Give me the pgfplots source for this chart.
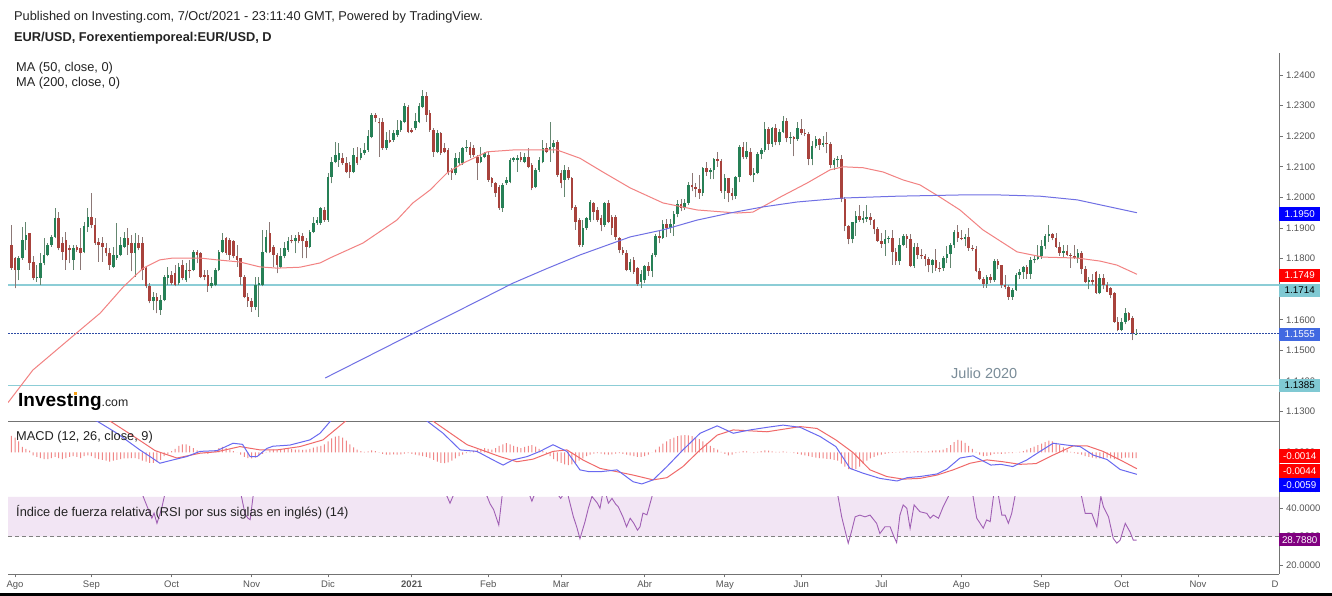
\documentclass[border=0pt]{standalone}
\usepackage{pgfplots}
\pgfplotsset{compat=1.18}
\usepackage{pgfplotstable}
\usepackage{fontspec}
\setmainfont{Liberation Sans}

\definecolor{upbody}{RGB}{38,128,86}
\definecolor{dnbody}{RGB}{168,66,60}
\definecolor{upwick}{RGB}{100,135,112}
\definecolor{dnwick}{RGB}{140,120,118}
\definecolor{maA}{RGB}{242,130,130}
\definecolor{maB}{RGB}{112,112,228}
\definecolor{macdB}{RGB}{105,105,240}
\definecolor{macdR}{RGB}{240,105,105}
\definecolor{histR}{RGB}{240,135,135}
\definecolor{rsiP}{RGB}{160,95,180}
\definecolor{rsiBand}{RGB}{242,229,244}
\definecolor{cyanL}{RGB}{140,205,214}
\definecolor{cyanBox}{RGB}{128,201,211}
\definecolor{dotB}{RGB}{45,75,165}
\definecolor{royal}{RGB}{65,105,225}
\definecolor{axisgray}{RGB}{115,115,115}
\definecolor{labelgray}{RGB}{85,85,85}
\definecolor{headgray}{RGB}{35,35,35}
\definecolor{julio}{RGB}{122,140,152}
\definecolor{purpleBox}{RGB}{128,0,128}
\definecolor{logoOrange}{RGB}{247,162,27}

\newcommand{\tickfont}{\fontsize{9.5bp}{11bp}\selectfont}
\newcommand{\boxfont}{\fontsize{9.8bp}{11bp}\selectfont}
\newcommand{\headfont}{\fontsize{12.8bp}{14bp}\selectfont}

\pgfplotstableread{
x o h l c
-1 1.1845 1.1910 1.1763 1.1769
0 1.1801 1.1805 1.1703 1.1763
1 1.1763 1.1807 1.1730 1.1801
2 1.1801 1.1905 1.1796 1.1861
3 1.1861 1.1921 1.1828 1.1877
4 1.1883 1.1885 1.1763 1.1785
5 1.1790 1.1807 1.1730 1.1736
6 1.1736 1.1779 1.1725 1.1741
7 1.1736 1.1818 1.1714 1.1785
8 1.1785 1.1867 1.1779 1.1812
9 1.1812 1.1850 1.1807 1.1845
10 1.1845 1.1877 1.1839 1.1872
11 1.1872 1.1965 1.1867 1.1932
12 1.1932 1.1954 1.1828 1.1834
13 1.1850 1.1872 1.1796 1.1823
14 1.1861 1.1888 1.1763 1.1796
15 1.1834 1.1845 1.1785 1.1828
16 1.1796 1.1845 1.1763 1.1834
17 1.1837 1.1845 1.1823 1.1828
18 1.1834 1.1899 1.1763 1.1818
19 1.1823 1.1921 1.1818 1.1905
20 1.1905 1.1965 1.1888 1.1937
21 1.1937 1.2014 1.1899 1.1910
22 1.1910 1.1932 1.1845 1.1850
23 1.1856 1.1867 1.1790 1.1845
24 1.1852 1.1872 1.1790 1.1839
25 1.1834 1.1850 1.1807 1.1818
26 1.1818 1.1834 1.1763 1.1779
27 1.1774 1.1839 1.1769 1.1812
28 1.1801 1.1916 1.1796 1.1812
29 1.1812 1.1872 1.1807 1.1845
30 1.1839 1.1888 1.1834 1.1867
31 1.1867 1.1899 1.1812 1.1845
32 1.1850 1.1877 1.1758 1.1818
33 1.1818 1.1883 1.1741 1.1850
34 1.1850 1.1877 1.1828 1.1834
35 1.1850 1.1872 1.1730 1.1763
36 1.1769 1.1774 1.1703 1.1709
37 1.1709 1.1719 1.1654 1.1660
38 1.1660 1.1692 1.1632 1.1676
39 1.1676 1.1687 1.1621 1.1660
40 1.1632 1.1681 1.1616 1.1665
41 1.1665 1.1747 1.1660 1.1741
42 1.1736 1.1774 1.1714 1.1747
43 1.1747 1.1758 1.1714 1.1719
44 1.1752 1.1779 1.1709 1.1714
45 1.1719 1.1785 1.1714 1.1774
46 1.1779 1.1796 1.1730 1.1736
47 1.1730 1.1785 1.1725 1.1763
48 1.1763 1.1796 1.1736 1.1758
49 1.1763 1.1828 1.1758 1.1823
50 1.1823 1.1828 1.1785 1.1812
51 1.1818 1.1823 1.1736 1.1741
52 1.1747 1.1763 1.1730 1.1741
53 1.1747 1.1763 1.1692 1.1709
54 1.1709 1.1741 1.1703 1.1719
55 1.1714 1.1769 1.1709 1.1763
56 1.1763 1.1828 1.1758 1.1823
57 1.1823 1.1883 1.1818 1.1861
58 1.1867 1.1872 1.1812 1.1818
59 1.1861 1.1867 1.1796 1.1812
60 1.1859 1.1861 1.1801 1.1807
61 1.1809 1.1845 1.1774 1.1796
62 1.1801 1.1801 1.1714 1.1741
63 1.1741 1.1747 1.1670 1.1676
64 1.1676 1.1687 1.1643 1.1660
65 1.1660 1.1670 1.1627 1.1643
66 1.1643 1.1741 1.1632 1.1714
67 1.1714 1.1741 1.1610 1.1719
68 1.1714 1.1894 1.1709 1.1823
69 1.1823 1.1894 1.1818 1.1872
70 1.1883 1.1921 1.1818 1.1823
71 1.1839 1.1845 1.1774 1.1812
72 1.1812 1.1818 1.1752 1.1779
73 1.1774 1.1834 1.1769 1.1807
74 1.1807 1.1856 1.1801 1.1834
75 1.1828 1.1872 1.1823 1.1856
76 1.1861 1.1877 1.1850 1.1856
77 1.1856 1.1877 1.1818 1.1867
78 1.1877 1.1888 1.1850 1.1856
79 1.1874 1.1883 1.1801 1.1856
80 1.1856 1.1867 1.1801 1.1839
81 1.1839 1.1894 1.1834 1.1888
82 1.1888 1.1937 1.1883 1.1916
83 1.1916 1.1937 1.1910 1.1927
84 1.1916 1.1970 1.1910 1.1965
85 1.1959 1.1970 1.1921 1.1927
86 1.1927 1.2079 1.1921 1.2068
87 1.2068 1.2133 1.2046 1.2117
88 1.2117 1.2182 1.2111 1.2139
89 1.2122 1.2177 1.2101 1.2144
90 1.2128 1.2144 1.2106 1.2111
91 1.2111 1.2133 1.2079 1.2084
92 1.2106 1.2117 1.2063 1.2084
93 1.2084 1.2160 1.2079 1.2139
94 1.2133 1.2166 1.2106 1.2111
95 1.2128 1.2160 1.2122 1.2144
96 1.2144 1.2177 1.2139 1.2155
97 1.2155 1.2220 1.2150 1.2199
98 1.2199 1.2275 1.2193 1.2270
99 1.2270 1.2275 1.2248 1.2259
100 1.2248 1.2259 1.2133 1.2242
101 1.2248 1.2259 1.2155 1.2160
102 1.2160 1.2215 1.2155 1.2188
103 1.2188 1.2220 1.2177 1.2182
104 1.2188 1.2220 1.2182 1.2210
105 1.2204 1.2253 1.2199 1.2220
106 1.2220 1.2253 1.2215 1.2248
107 1.2248 1.2308 1.2242 1.2297
108 1.2297 1.2302 1.2210 1.2215
109 1.2220 1.2226 1.2210 1.2215
110 1.2226 1.2275 1.2220 1.2248
111 1.2248 1.2308 1.2242 1.2297
112 1.2297 1.2351 1.2291 1.2330
113 1.2330 1.2346 1.2248 1.2270
114 1.2275 1.2286 1.2215 1.2220
115 1.2220 1.2226 1.2133 1.2150
116 1.2150 1.2220 1.2144 1.2210
117 1.2210 1.2215 1.2139 1.2144
118 1.2160 1.2177 1.2144 1.2150
119 1.2155 1.2160 1.2073 1.2079
120 1.2090 1.2095 1.2057 1.2079
121 1.2079 1.2144 1.2073 1.2128
122 1.2111 1.2150 1.2106 1.2128
123 1.2111 1.2166 1.2106 1.2160
124 1.2160 1.2188 1.2150 1.2166
125 1.2166 1.2182 1.2128 1.2139
126 1.2160 1.2171 1.2133 1.2139
127 1.2133 1.2139 1.2057 1.2111
128 1.2117 1.2166 1.2111 1.2133
129 1.2133 1.2150 1.2128 1.2144
130 1.2139 1.2150 1.2052 1.2057
131 1.2063 1.2068 1.2035 1.2046
132 1.2046 1.2052 1.2002 1.2013
133 1.2035 1.2041 1.1959 1.1964
134 1.1964 1.2046 1.1953 1.2041
135 1.2046 1.2068 1.2041 1.2057
136 1.2052 1.2128 1.2046 1.2122
137 1.2122 1.2133 1.2117 1.2128
138 1.2122 1.2139 1.2084 1.2128
139 1.2133 1.2150 1.2117 1.2122
140 1.2117 1.2144 1.2111 1.2133
141 1.2133 1.2160 1.2095 1.2101
142 1.2106 1.2111 1.2024 1.2030
143 1.2035 1.2095 1.2030 1.2090
144 1.2090 1.2133 1.2084 1.2122
145 1.2117 1.2188 1.2111 1.2160
146 1.2160 1.2177 1.2144 1.2150
147 1.2155 1.2248 1.2117 1.2166
148 1.2166 1.2188 1.2144 1.2177
149 1.2182 1.2188 1.2068 1.2073
150 1.2079 1.2090 1.2030 1.2046
151 1.2057 1.2106 1.2002 1.2090
152 1.2090 1.2101 1.2057 1.2063
153 1.2063 1.2068 1.1959 1.1964
154 1.1970 1.1975 1.1894 1.1921
155 1.1926 1.1932 1.1839 1.1845
156 1.1845 1.1926 1.1839 1.1899
157 1.1899 1.1937 1.1894 1.1932
158 1.1926 1.1992 1.1921 1.1986
159 1.1981 1.1986 1.1926 1.1953
160 1.1959 1.1970 1.1921 1.1926
161 1.1932 1.1943 1.1889 1.1910
162 1.1910 1.1986 1.1905 1.1981
163 1.1981 1.1992 1.1916 1.1921
164 1.1937 1.1943 1.1878 1.1899
165 1.1937 1.1943 1.1861 1.1872
166 1.1867 1.1872 1.1818 1.1828
167 1.1828 1.1839 1.1812 1.1818
168 1.1818 1.1828 1.1758 1.1763
169 1.1763 1.1800 1.1757 1.1790
170 1.1795 1.1806 1.1750 1.1757
171 1.1768 1.1773 1.1712 1.1718
172 1.1724 1.1762 1.1704 1.1751
173 1.1730 1.1780 1.1720 1.1776
174 1.1776 1.1790 1.1744 1.1761
175 1.1761 1.1820 1.1740 1.1813
176 1.1813 1.1880 1.1805 1.1874
177 1.1874 1.1890 1.1850 1.1868
178 1.1868 1.1927 1.1865 1.1914
179 1.1914 1.1930 1.1870 1.1900
180 1.1900 1.1928 1.1885 1.1912
181 1.1912 1.1955 1.1875 1.1947
182 1.1947 1.1990 1.1935 1.1979
183 1.1979 1.1995 1.1955 1.1965
184 1.1965 1.1995 1.1960 1.1983
185 1.1983 1.2050 1.1975 1.2039
186 1.2039 1.2080 1.2020 1.2033
187 1.2033 1.2048 1.2000 1.2028
188 1.2028 1.2072 1.1995 1.2015
189 1.2015 1.2100 1.2005 1.2096
190 1.2096 1.2115 1.2070 1.2083
191 1.2083 1.2095 1.2060 1.2089
192 1.2089 1.2130 1.2060 1.2126
193 1.2126 1.2150 1.2100 1.2120
194 1.2120 1.2125 1.2015 1.2021
195 1.2021 1.2075 1.1995 1.2062
196 1.2062 1.2065 1.1985 1.2014
197 1.2014 1.2030 1.1990 1.2005
198 1.2005 1.2070 1.1995 1.2066
199 1.2066 1.2170 1.2050 1.2165
200 1.2165 1.2180 1.2125 1.2131
201 1.2131 1.2180 1.2125 1.2150
202 1.2150 1.2160 1.2070 1.2074
203 1.2074 1.2095 1.2050 1.2080
204 1.2080 1.2150 1.2075 1.2141
205 1.2141 1.2160 1.2125 1.2154
206 1.2154 1.2245 1.2150 1.2224
207 1.2224 1.2230 1.2155 1.2175
208 1.2175 1.2230 1.2165 1.2226
209 1.2226 1.2240 1.2170 1.2180
210 1.2180 1.2225 1.2170 1.2214
211 1.2214 1.2266 1.2210 1.2250
212 1.2250 1.2260 1.2180 1.2193
213 1.2193 1.2215 1.2175 1.2197
214 1.2197 1.2200 1.2135 1.2190
215 1.2190 1.2245 1.2185 1.2225
216 1.2225 1.2255 1.2205 1.2212
217 1.2212 1.2225 1.2200 1.2208
218 1.2208 1.2215 1.2105 1.2126
219 1.2126 1.2185 1.2105 1.2167
220 1.2167 1.2200 1.2160 1.2190
221 1.2190 1.2195 1.2155 1.2172
222 1.2172 1.2200 1.2165 1.2179
223 1.2179 1.2215 1.2145 1.2173
224 1.2173 1.2180 1.2095 1.2107
225 1.2107 1.2130 1.2090 1.2121
226 1.2121 1.2135 1.2100 1.2125
227 1.2125 1.2140 1.1985 1.1995
228 1.1995 1.2000 1.1890 1.1907
229 1.1907 1.1910 1.1847 1.1864
230 1.1864 1.1920 1.1850 1.1918
231 1.1918 1.1955 1.1875 1.1940
232 1.1940 1.1975 1.1920 1.1926
233 1.1926 1.1955 1.1915 1.1931
234 1.1931 1.1975 1.1920 1.1937
235 1.1937 1.1950 1.1910 1.1925
236 1.1925 1.1930 1.1880 1.1896
237 1.1896 1.1905 1.1855 1.1858
238 1.1858 1.1885 1.1835 1.1848
239 1.1848 1.1895 1.1810 1.1864
240 1.1864 1.1875 1.1850 1.1868
241 1.1868 1.1895 1.1780 1.1822
242 1.1822 1.1835 1.1780 1.1791
243 1.1791 1.1868 1.1780 1.1845
244 1.1845 1.1880 1.1840 1.1875
245 1.1875 1.1880 1.1835 1.1863
246 1.1863 1.1880 1.1772 1.1776
247 1.1776 1.1850 1.1770 1.1837
248 1.1837 1.1850 1.1800 1.1812
249 1.1812 1.1830 1.1800 1.1807
250 1.1807 1.1815 1.1775 1.1800
251 1.1800 1.1805 1.1755 1.1780
252 1.1780 1.1800 1.1752 1.1794
253 1.1794 1.1830 1.1760 1.1771
254 1.1771 1.1790 1.1755 1.1768
255 1.1768 1.1810 1.1760 1.1803
256 1.1803 1.1840 1.1785 1.1815
257 1.1815 1.1850 1.1770 1.1843
258 1.1843 1.1895 1.1835 1.1887
259 1.1887 1.1910 1.1855 1.1869
260 1.1869 1.1895 1.1860 1.1865
261 1.1865 1.1880 1.1840 1.1870
262 1.1870 1.1900 1.1825 1.1836
263 1.1836 1.1845 1.1825 1.1831
264 1.1831 1.1840 1.1755 1.1761
265 1.1761 1.1770 1.1730 1.1735
266 1.1735 1.1740 1.1705 1.1718
267 1.1718 1.1745 1.1705 1.1739
268 1.1739 1.1750 1.1720 1.1729
269 1.1729 1.1800 1.1725 1.1793
270 1.1793 1.1800 1.1765 1.1778
271 1.1778 1.1780 1.1705 1.1713
272 1.1713 1.1745 1.1700 1.1706
273 1.1706 1.1715 1.1665 1.1675
274 1.1675 1.1705 1.1665 1.1698
275 1.1698 1.1752 1.1695 1.1747
276 1.1747 1.1765 1.1735 1.1755
277 1.1755 1.1775 1.1735 1.1772
278 1.1772 1.1780 1.1735 1.1751
279 1.1751 1.1805 1.1735 1.1794
280 1.1794 1.1810 1.1785 1.1799
281 1.1799 1.1846 1.1795 1.1807
282 1.1807 1.1860 1.1800 1.1840
283 1.1840 1.1880 1.1830 1.1875
284 1.1875 1.1909 1.1855 1.1880
285 1.1880 1.1885 1.1860 1.1869
286 1.1869 1.1885 1.1835 1.1839
287 1.1839 1.1855 1.1810 1.1819
288 1.1819 1.1845 1.1805 1.1824
289 1.1824 1.1845 1.1810 1.1813
290 1.1813 1.1820 1.1770 1.1808
291 1.1808 1.1845 1.1800 1.1803
292 1.1803 1.1830 1.1785 1.1819
293 1.1819 1.1825 1.1750 1.1765
294 1.1765 1.1775 1.1720 1.1725
295 1.1725 1.1740 1.1700 1.1729
296 1.1730 1.1750 1.1715 1.1725
297 1.1755 1.1760 1.1685 1.1689
298 1.1687 1.1750 1.1683 1.1736
299 1.1736 1.1750 1.1700 1.1714
300 1.1714 1.1725 1.1690 1.1692
301 1.1703 1.1708 1.1670 1.1681
302 1.1687 1.1690 1.1590 1.1594
303 1.1594 1.1610 1.1562 1.1567
304 1.1567 1.1605 1.1562 1.1594
305 1.1594 1.1640 1.1585 1.1621
306 1.1621 1.1625 1.1595 1.1600
307 1.1605 1.1612 1.1534 1.1556
308 1.1552 1.1570 1.1550 1.1555
}\candles

\pgfplotsset{panel/.style={
  scale only axis, width=1271bp, xmin=-1.923, xmax=347.25,
  axis x line=bottom, axis y line=right,
  axis line style={-, draw=axisgray, line width=0.9bp},
  every tick/.style={draw=axisgray, line width=0.8bp},
  major tick length=3.5bp, tick align=outside,
  xtick=\empty, scaled y ticks=false,
  yticklabel style={font=\tickfont, text=labelgray,
    /pgf/number format/assume math mode=true,
    /pgf/number format/fixed, /pgf/number format/fixed zerofill,
    /pgf/number format/precision=4},
  xticklabel style={font=\tickfont, text=labelgray},
  clip=true,
}}
\pgfplotsset{candle/.style n args={2}{only marks, mark=*, mark size=0bp,
  mark options={draw=none, fill=none},
  error bars/y dir=plus, error bars/y explicit, error bars/error mark=none,
  error bars/error bar style={draw=#1, line width=#2}}}

\begin{document}
\begin{tikzpicture}[x=1bp,y=1bp]
\fill[white] (0,0) rectangle (1332,596);

% ---------------- main price panel ----------------
\begin{axis}[panel, at={(8bp,174.5bp)}, anchor=south west, height=368bp,
  ymin=1.1268, ymax=1.24702,
  ytick={1.13,1.14,1.15,1.16,1.17,1.18,1.19,1.2,1.21,1.22,1.23,1.24}]
\addplot[cyanL, line width=1.1bp] coordinates {(-1.9,1.1714) (347.2,1.1714)};
\addplot[cyanL, line width=1.1bp] coordinates {(-1.9,1.1385) (347.2,1.1385)};
\addplot[dotB, line width=0.8bp, dash pattern=on 1.5bp off 1.5bp] coordinates {(-1.9,1.1555) (347.2,1.1555)};
% wicks
\addplot[restrict expr to domain={\thisrow{c}-\thisrow{o}}{0:1}, candle={upwick}{1bp}]
  table[x=x, y=l, y error expr=\thisrow{h}-\thisrow{l}] {\candles};
\addplot[restrict expr to domain={\thisrow{c}-\thisrow{o}}{-1:-0.00000001}, candle={dnwick}{1bp}]
  table[x=x, y=l, y error expr=\thisrow{h}-\thisrow{l}] {\candles};
% bodies
\addplot[restrict expr to domain={\thisrow{c}-\thisrow{o}}{0:1}, candle={upbody}{2.6bp}]
  table[x=x, y=o, y error expr=\thisrow{c}-\thisrow{o}+0.00003] {\candles};
\addplot[restrict expr to domain={\thisrow{c}-\thisrow{o}}{-1:-0.00000001}, candle={dnbody}{2.6bp}]
  table[x=x, y=c, y error expr=\thisrow{o}-\thisrow{c}] {\candles};
% MA 50
\addplot[maA, line width=1bp] coordinates {
(-1.9,1.1330) (4.9,1.1436) (17.9,1.1567) (23.4,1.1622) (29.7,1.1707) (35.2,1.1769) (39.8,1.1796)
(43.4,1.1802) (50.8,1.1802) (55.5,1.1796) (61.8,1.1789) (67.3,1.1773) (72.0,1.1769) (78.3,1.1772)
(83.8,1.1786) (86.5,1.1802) (95.6,1.1851) (104.9,1.1926) (109.3,1.1982) (114.0,1.2024) (118.7,1.2080)
(123.1,1.2112) (129.7,1.2149) (136.8,1.2155) (148.9,1.2155) (155.2,1.2128) (161.5,1.2083) (169.0,1.2031)
(178.0,1.1982) (187.4,1.1959) (198.4,1.1949) (202.7,1.1952) (210.2,1.2001) (217.6,1.2047) (223.9,1.2090)
(227.5,1.2100) (233.0,1.2097) (238.5,1.2083) (244.0,1.2057) (248.6,1.2041) (254.1,1.2001) (259.6,1.1959)
(265.9,1.1894) (275.3,1.1822) (282.4,1.1805) (291.8,1.1802) (298.1,1.1792) (302.7,1.1779) (308.2,1.1749)};
% MA 200
\addplot[maB, line width=1bp] coordinates {
(85.2,1.1410) (105.8,1.1534) (127.7,1.1665) (136.8,1.1720) (146.2,1.1768) (155.2,1.1812) (164.3,1.1851)
(169.0,1.1871) (178.0,1.1894) (187.4,1.1926) (196.4,1.1949) (205.5,1.1969) (214.8,1.1985) (227.5,1.1998)
(242.3,1.2004) (259.6,1.2008) (270.6,1.2008) (281.6,1.2004) (291.8,1.1992) (308.2,1.1950)};
\end{axis}

% ---------------- MACD panel ----------------
\begin{axis}[panel, at={(8bp,99bp)}, anchor=south west, height=75.5bp,
  ymin=-0.012027, ymax=0.008378, ytick={-0.01,0}]
\addplot[ybar, bar width=1bp, bar shift=0pt, fill=histR, draw=none] coordinates {
(-1,0.0045)(0,0.0040)(1,0.0030)(2,0.0015)(3,0.0010)(4,0.0005)
(5,-0.0008)(6,-0.0012)(7,-0.0015)(8,-0.0018)(9,-0.0018)(10,-0.0015)
(11,-0.0012)(12,-0.0015)(13,-0.0018)(14,-0.0015)(15,-0.0012)(16,-0.0010)(17,-0.0012)(18,-0.0015)(19,-0.0010)(20,-0.0008)
(21,-0.0010)(22,-0.0015)(23,-0.0018)(24,-0.0020)(25,-0.0022)(26,-0.0025)(27,-0.0022)(28,-0.0020)(29,-0.0018)(30,-0.0016)
(31,-0.0016)(32,-0.0015)(33,-0.0015)(34,-0.0018)(35,-0.0022)(36,-0.0025)(37,-0.0028)(38,-0.0028)(39,-0.0025)(40,-0.0020)
(41,-0.0010)(42,-0.0004)(43,0.0004)(44,0.0010)(45,0.0018)(46,0.0022)(47,0.0022)(48,0.0018)(49,0.0012)(50,0.0006)
(51,0.0002)(52,-0.0002)(53,-0.0004)(54,0.0002)(55,0.0006)(56,0.0012)(57,0.0015)(58,0.0012)(59,0.0008)(60,0.0004)
(61,0.0000)(62,-0.0006)(63,-0.0012)(64,-0.0015)(65,-0.0016)(66,-0.0014)(67,-0.0010)(68,-0.0004)
(69,0.0002)(70,0.0006)(71,0.0008)(72,0.0008)(73,0.0008)(74,0.0010)(75,0.0010)(76,0.0009)(77,0.0008)(78,0.0008)
(79,0.0007)(80,0.0008)(81,0.0010)(82,0.0013)(83,0.0016)(84,0.0018)(85,0.0022)(86,0.0030)(87,0.0038)(88,0.0043)
(89,0.0045)(90,0.0040)(91,0.0032)(92,0.0022)(93,0.0014)(94,0.0008)(95,0.0004)(96,0.0002)(97,0.0003)(98,0.0006)
(99,0.0004)(100,0.0001)(101,-0.0004)(102,-0.0006)(103,-0.0006)(104,-0.0005)(105,-0.0006)(106,-0.0005)(107,-0.0003)(108,-0.0002)
(109,-0.0004)(110,-0.0006)(111,-0.0008)(112,-0.0010)(113,-0.0012)(114,-0.0015)(115,-0.0020)(116,-0.0025)(117,-0.0028)(118,-0.0029)
(119,-0.0027)(120,-0.0022)(121,-0.0016)(122,-0.0010)(123,-0.0006)(124,-0.0002)(125,0.0002)(126,0.0005)(127,0.0008)(128,0.0010)
(129,0.0012)(130,0.0010)(131,0.0008)(132,0.0012)(133,0.0018)(134,0.0022)(135,0.0025)(136,0.0022)(137,0.0018)(138,0.0015)
(139,0.0012)(140,0.0015)(141,0.0018)(142,0.0020)(143,0.0016)(144,0.0010)(145,0.0004)(146,-0.0004)(147,-0.0010)(148,-0.0018)
(149,-0.0024)(150,-0.0028)(151,-0.0032)(152,-0.0034)(153,-0.0032)(154,-0.0028)(155,-0.0022)(156,-0.0016)(157,-0.0010)(158,-0.0006)
(159,-0.0003)(160,-0.0002)(161,-0.0003)(162,-0.0005)(163,-0.0006)(164,-0.0005)(165,-0.0003)(166,-0.0002)(167,-0.0004)(168,-0.0006)
(169,-0.0008)(170,-0.0010)(171,-0.0012)(172,-0.0012)(173,-0.0010)(174,-0.0006)(175,0.0000)(176,0.0008)(177,0.0016)(178,0.0024)
(179,0.0030)(180,0.0036)(181,0.0040)(182,0.0044)(183,0.0046)(184,0.0047)(185,0.0046)(186,0.0044)(187,0.0040)(188,0.0036)
(189,0.0030)(190,0.0024)(191,0.0018)(192,0.0012)(193,0.0008)(194,0.0002)(195,-0.0004)(196,-0.0008)(197,-0.0006)(198,-0.0002)
(199,0.0002)(200,0.0004)(201,0.0003)(202,0.0000)(203,-0.0002)(204,0.0002)(205,0.0004)(206,0.0006)(207,0.0005)(208,0.0003)
(209,0.0002)(210,0.0002)(211,0.0003)(212,0.0002)(213,0.0000)(214,-0.0002)(215,-0.0004)(216,-0.0006)(217,-0.0008)(218,-0.0010)
(219,-0.0012)(220,-0.0014)(221,-0.0015)(222,-0.0016)(223,-0.0017)(224,-0.0018)(225,-0.0020)(226,-0.0022)(227,-0.0030)(228,-0.0038)
(229,-0.0045)(230,-0.0047)(231,-0.0044)(232,-0.0038)(233,-0.0030)(234,-0.0022)(235,-0.0016)(236,-0.0012)(237,-0.0008)(238,-0.0006)
(239,-0.0004)(240,-0.0002)(241,-0.0001)(242,0.0001)(243,0.0002)(244,0.0003)(245,0.0003)(246,0.0002)(247,0.0003)(248,0.0004)
(249,0.0003)(250,0.0002)(251,0.0003)(252,0.0005)(253,0.0006)(254,0.0006)(255,0.0008)(256,0.0012)(257,0.0020)(258,0.0028)
(259,0.0034)(260,0.0032)(261,0.0026)(262,0.0018)(263,0.0010)(264,0.0002)(265,-0.0006)(266,-0.0010)(267,-0.0009)(268,-0.0007)
(269,-0.0004)(270,-0.0003)(271,-0.0004)(272,-0.0003)(273,-0.0002)(274,-0.0002)(275,0.0000)(276,0.0002)(277,0.0004)(278,0.0008)
(279,0.0012)(280,0.0016)(281,0.0020)(282,0.0024)(283,0.0028)(284,0.0032)(285,0.0030)(286,0.0026)(287,0.0020)(288,0.0014)
(289,0.0008)(290,0.0002)(291,-0.0002)(292,-0.0004)(293,-0.0006)(294,-0.0010)(295,-0.0012)(296,-0.0014)(297,-0.0016)(298,-0.0016)
(299,-0.0015)(300,-0.0014)(301,-0.0016)(302,-0.0018)(303,-0.0018)(304,-0.0016)(305,-0.0014)(306,-0.0014)(307,-0.0015)(308,-0.0015)};
\addplot[macdR, line width=1bp] coordinates {
(-1.9,0.0125) (15,0.0115) (26.1,0.0085) (32.4,0.0045) (38.5,0.0005) (44.5,-0.0015) (50.8,-0.0002)
(55.5,0.0002) (61.8,0.0016) (67.3,0.0007) (72.0,0.0007) (78.3,0.0016) (84.6,0.0034) (91.2,0.0088)
(100,0.0120) (110,0.0125) (114.8,0.0085) (124.2,0.0021) (133.2,-0.0011) (137.9,-0.0025) (142.3,-0.0018)
(147.8,0.0003) (151.6,0.0007) (156.0,-0.0020) (160.7,-0.0043) (165.4,-0.0052) (169.8,-0.0061) (175.3,-0.0074)
(179.1,-0.0068) (183.5,-0.0038) (188.2,0.0007) (192.9,0.0047) (197.3,0.0061) (206.6,0.0056) (215.7,0.0070)
(220.3,0.0065) (225.5,0.0034) (230.2,0.0000) (234.9,-0.0047) (239.5,-0.0065) (244.0,-0.0072) (248.6,-0.0070)
(253.3,-0.0061) (257.7,-0.0047) (262.4,-0.0029) (267.0,-0.0020) (271.4,-0.0025) (276.1,-0.0032) (280.5,-0.0030)
(285.2,-0.0007) (290.7,0.0018) (294.5,0.0018) (298.9,0.0003) (303.6,-0.0020) (308.2,-0.0044)};
\addplot[macdB, line width=1bp] coordinates {
(-1.9,0.0120) (10,0.0118) (18,0.0100) (22.5,0.0085) (28.0,0.0052) (34.3,0.0007) (37.1,-0.0011) (39.8,-0.0029)
(43.4,-0.0020) (47.2,-0.0011) (50.8,0.0003) (55.5,0.0005) (59.9,0.0025) (62.5,0.0022) (64.6,-0.0011) (66.5,-0.0011)
(69.2,0.0011) (70.9,0.0017) (75.5,0.0020) (81.0,0.0034) (83.8,0.0052) (86.5,0.0083) (90,0.0115) (100,0.0135)
(108,0.0125) (113.2,0.0085) (117.6,0.0052) (122.3,0.0007) (126.9,0.0003) (131.3,-0.0020) (134.1,-0.0034)
(136.8,-0.0020) (140.7,-0.0011) (144.2,0.0003) (147.8,0.0021) (151.6,0.0003) (155.2,-0.0047) (157.8,-0.0052)
(160.7,-0.0052) (165.4,-0.0047) (169.8,-0.0079) (172.2,-0.0085) (175.3,-0.0074) (179.1,-0.0038) (183.5,0.0007)
(188.2,0.0052) (192.9,0.0072) (197.3,0.0052) (201.9,0.0061) (206.6,0.0068) (211.0,0.0074) (215.7,0.0068)
(221.2,0.0043) (225.5,0.0016) (229.4,-0.0043) (233.0,-0.0056) (237.6,-0.0070) (242.3,-0.0077) (245.1,-0.0068)
(248.6,-0.0065) (253.3,-0.0058) (256.0,-0.0045) (259.6,-0.0015) (263.2,-0.0009) (268.1,-0.0034) (270.8,-0.0032)
(274.1,-0.0038) (278.0,-0.0020) (281.6,0.0003) (285.2,0.0025) (289.0,0.0020) (292.6,0.0016) (296.2,-0.0007)
(300.0,-0.0019) (303.6,-0.0046) (308.2,-0.0059)};
\end{axis}

% ---------------- RSI panel ----------------
\begin{axis}[panel, at={(8bp,22bp)}, anchor=south west, height=77bp,
  ymin=16.83, ymax=43.99, ytick={20,30,40},
  xtick={0,21,43,65,86,109,130,150,173,195,216,238,260,282,304,325},
  xticklabels={Ago,Sep,Oct,Nov,Dic,\textbf{2021},Feb,Mar,Abr,May,Jun,Jul,Ago,Sep,Oct,Nov}]
\addplot[fill=rsiBand, draw=none] coordinates {(-1.92,30) (347.2,30) (347.2,43.99) (-1.92,43.99) (-1.92,30)};
\addplot[gray, line width=0.8bp, dash pattern=on 4bp off 3bp] coordinates {(-1.92,30) (347.2,30)};
\addplot[rsiP, line width=0.9bp] coordinates {
(-1.9,60) (10,58) (20,62) (30,52) (34,47) (35.2,44.2) (36.5,40) (37.6,36.5) (38.2,38.3) (39,34.7) (40.3,40)
(41.5,47) (45,55) (55,52) (61,50) (62.2,44.2) (63.2,38) (64.0,36.5) (64.6,36) (65.4,44.2) (67,55) (75,60)
(86,70) (100,68) (110,60) (116,50) (118.7,44.2) (119.5,41.8) (120.3,44.2) (122,50) (126,50) (129.7,44.2)
(130.5,41.6) (131.5,39.5) (132.9,34.1) (133.8,44.2) (136,52) (140,48) (141.5,44.2) (142,42.5) (142.5,44.2)
(146,50) (149.5,44.2) (149.9,43.5) (150.3,44.2) (151,50) (152.0,44.2) (153.4,37) (154.3,33.5) (155.2,29.3)
(156.6,35.3) (157.5,40) (158.5,44.2) (160.0,41.8) (160.7,40) (161.3,44.2) (161.9,47) (162.5,44.2) (163.0,41.8)
(164.0,43.5) (165.0,41.5) (165.7,40.6) (167.0,37) (168.0,33.5) (169.0,36.5) (170.0,34.7) (171.0,32.3)
(171.7,33.5) (172.5,38.3) (173.6,37.7) (174.0,39.5) (175.0,44.2) (177,55) (185,65) (200,60) (210,62)
(218,55) (224,50) (226.1,44.2) (227.1,37.0) (228.0,32.3) (228.9,27.7) (229.9,32.3) (230.8,37.0) (232.1,37.6)
(233.5,37.0) (234.9,37.6) (236.7,34.7) (237.6,31.1) (239.0,33.5) (240.4,33.5) (241.3,30.5) (242.2,27.9)
(243.1,37.6) (244.0,41.2) (245.0,40.0) (245.9,32.9) (247.0,41.2) (248.6,38.8) (250.5,38.2) (251.4,36.5)
(252.3,37.6) (253.7,36.5) (255.0,40.6) (256.4,44.2) (258,52) (261,50) (263.2,44.2) (264.2,36.5) (266.0,33.0)
(266.9,35.9) (267.9,35.3) (268.8,44.2) (269.5,46) (270.2,44.2) (271.1,37.6) (272.0,37.6) (272.9,34.7)
(273.8,38.2) (274.7,44.2) (277,52) (284,62) (290,50) (293.0,44.2) (294.0,38.2) (295.8,38.2) (297.2,33.5)
(298.3,44.2) (299.0,40.6) (300.4,37.0) (301.7,29.4) (302.7,27.7) (303.6,28.8) (305.0,34.7) (306.3,31.7)
(307.2,28.8) (308.1,28.8)};
\end{axis}

% ---------------- texts ----------------
\node[anchor=base west, inner sep=0, text=headgray, font=\headfont] at (14,575.3)
  {Published on Investing.com, 7/Oct/2021 - 23:11:40 GMT, Powered by TradingView.};
\node[anchor=base west, inner sep=0, text=headgray, font=\headfont\bfseries] at (14,554.3)
  {EUR/USD, Forexentiemporeal:EUR/USD, D};
\node[anchor=base west, inner sep=0, text=headgray, font=\headfont] at (16,524.3) {MA (50, close, 0)};
\node[anchor=base west, inner sep=0, text=headgray, font=\headfont] at (16,509.3) {MA (200, close, 0)};
\node[anchor=base west, inner sep=0, text=headgray, font=\headfont] at (16,155.3) {MACD (12, 26, close, 9)};
\node[anchor=base west, inner sep=0, text=headgray, font=\headfont] at (16,79.3)
  {Índice de fuerza relativa (RSI por sus siglas en inglés) (14)};
\node[anchor=base west, inner sep=0, text=julio, font=\fontsize{14.5bp}{16bp}\selectfont] at (951,217.7) {Julio 2020};
\node[anchor=base west, inner sep=0, font=\fontsize{19bp}{20bp}\selectfont\bfseries] at (18,189.3)
  {Investing\fontsize{12.3bp}{13bp}\selectfont\mdseries\color{headgray}.com};
\fill[logoOrange] (73.6,200.6) rectangle (77.4,204.4);
\node[anchor=base, inner sep=0, text=labelgray, font=\tickfont] at (1275,8.5) {D};

% ---------------- price boxes ----------------
\tikzset{pbox/.style={minimum width=41bp, minimum height=13.5bp, inner sep=0, font=\boxfont, anchor=west}}
\node[pbox, fill=blue, text=white] at (1279,382.2) {1.1950};
\node[pbox, fill=red, text=white] at (1279,320.7) {1.1749};
\node[pbox, fill=cyanBox, text=black] at (1279,305.7) {1.1714};
\node[pbox, fill=royal, text=white] at (1279,261.5) {1.1555};
\node[pbox, fill=cyanBox, text=black] at (1279,210.5) {1.1385};
\node[pbox, fill=red, text=white] at (1279,140) {-0.0014};
\node[pbox, fill=red, text=white] at (1279,125.2) {-0.0044};
\node[pbox, fill=blue, text=white] at (1279,111) {-0.0059};
\node[pbox, fill=purpleBox, text=white] at (1279,56.3) {28.7880};

\fill[black] (0,0) rectangle (1332,2.7);
\pgfresetboundingbox
\useasboundingbox (0,0) rectangle (1332,596);
\end{tikzpicture}
\end{document}
